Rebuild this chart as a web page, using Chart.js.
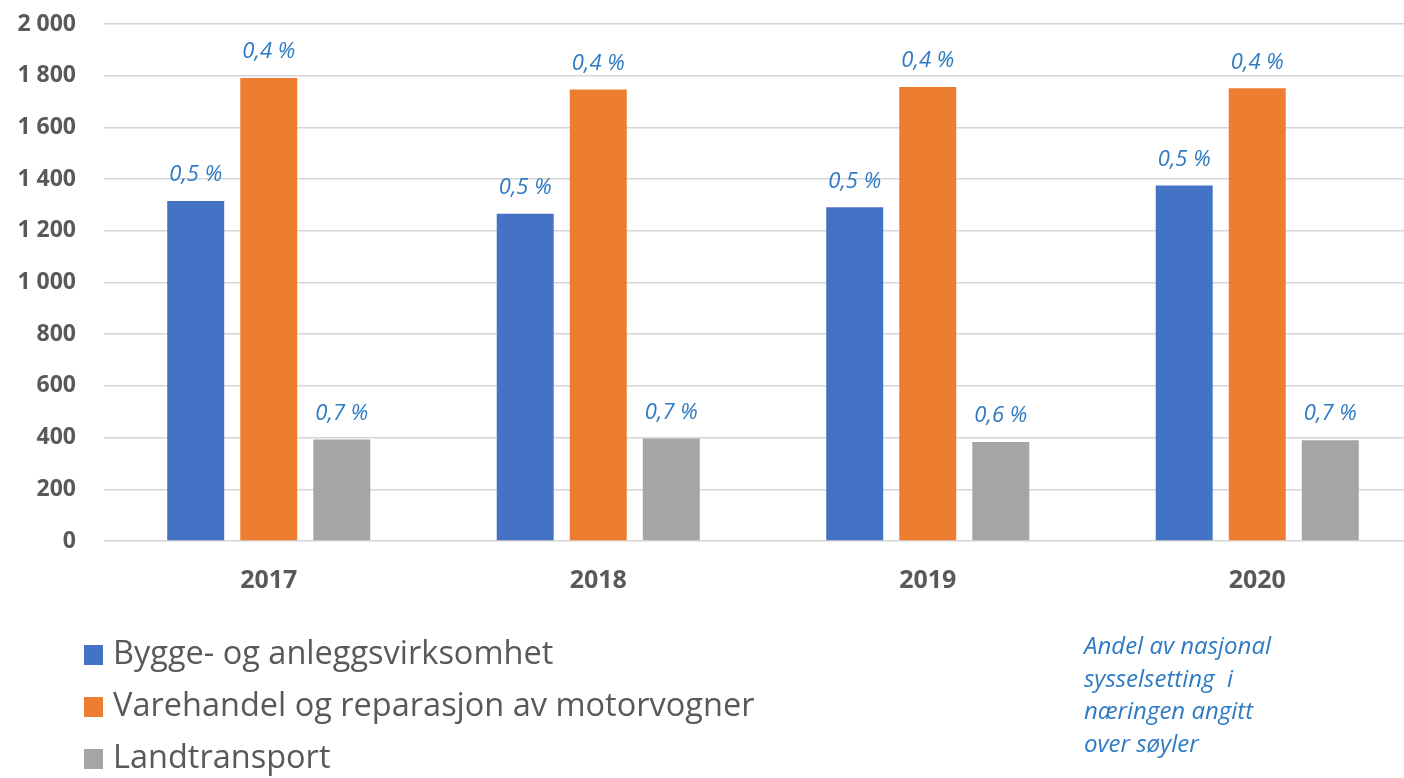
<!DOCTYPE html>
<html>
<head>
<meta charset="utf-8">
<script src="https://cdn.jsdelivr.net/npm/chart.js@4.4.1/dist/chart.umd.min.js"></script>
<style>
  html, body { margin: 0; padding: 0; background: #fff; overflow: hidden; }
  #wrap { position: relative; width: 1422px; height: 778px; }
</style>
</head>
<body>
<div id="wrap"><canvas id="c"></canvas></div>
<script>
const categories = ["2017", "2018", "2019", "2020"];
const seriesNames = ["Bygge- og anleggsvirksomhet", "Varehandel og reparasjon av motorvogner", "Landtransport"];
const byggValues = [1315, 1266, 1291, 1375];
const varehandelValues = [1791, 1747, 1756, 1751];
const landtransportValues = [393, 397, 383, 390];
const byggShares = ["0,5 %", "0,5 %", "0,5 %", "0,5 %"];
const varehandelShares = ["0,4 %", "0,4 %", "0,4 %", "0,4 %"];
const landtransportShares = ["0,7 %", "0,7 %", "0,6 %", "0,7 %"];
const noteLines = ["Andel av nasjonal", "sysselsetting  i", "næringen angitt", "over søyler"];
const colors = ["#4472C4", "#ED7D31", "#A5A5A5"];

const FONT = "'Open Sans', Lato, 'DejaVu Sans', sans-serif";
const labelBlue = "#2E7BC4";

const shareLabels = {
  id: "shareLabels",
  afterDatasetsDraw(chart) {
    const ctx = chart.ctx;
    ctx.save();
    ctx.font = "italic 22px " + FONT;
    ctx.fillStyle = labelBlue;
    ctx.textAlign = "center";
    ctx.textBaseline = "middle";
    chart.data.datasets.forEach((ds, i) => {
      const meta = chart.getDatasetMeta(i);
      meta.data.forEach((bar, j) => {
        ctx.fillText(ds.shares[j], bar.x, bar.y - 26);
      });
    });
    ctx.restore();
  }
};

const sideLegend = {
  id: "sideLegend",
  afterDraw(chart) {
    const ctx = chart.ctx;
    ctx.save();
    ctx.textBaseline = "middle";
    ctx.textAlign = "left";
    ctx.font = "32.5px " + FONT;
    const rowsY = [655, 707, 759];
    chart.data.datasets.forEach((ds, i) => {
      ctx.fillStyle = ds.backgroundColor;
      ctx.fillRect(84, rowsY[i] - 10, 19, 20);
      ctx.fillStyle = "#595959";
      ctx.fillText(ds.label, 113, rowsY[i]);
    });
    ctx.font = "italic 24px " + FONT;
    ctx.fillStyle = labelBlue;
    noteLines.forEach((t, k) => {
      ctx.fillText(t, 1084, 647 + k * 32.7);
    });
    ctx.restore();
  }
};

new Chart(document.getElementById("c"), {
  type: "bar",
  data: {
    labels: categories,
    datasets: [
      { label: seriesNames[0], data: byggValues, shares: byggShares, backgroundColor: colors[0] },
      { label: seriesNames[1], data: varehandelValues, shares: varehandelShares, backgroundColor: colors[1] },
      { label: seriesNames[2], data: landtransportValues, shares: landtransportShares, backgroundColor: colors[2] }
    ]
  },
  options: {
    responsive: true,
    maintainAspectRatio: false,
    animation: false,
    datasets: { bar: { categoryPercentage: 0.665, barPercentage: 0.78 } },
    layout: { padding: { top: 24, right: 0, left: 0, bottom: 0 } },
    plugins: { legend: { display: false }, tooltip: { enabled: false } },
    scales: {
      x: {
        grid: { display: false, drawTicks: false },
        border: { display: false },
        ticks: { color: "#595959", font: { family: FONT, size: 25, weight: "bold" }, padding: 25 },
        afterFit(s) { s.height = 237; }
      },
      y: {
        min: 0, max: 2000,
        ticks: {
          stepSize: 200,
          color: "#595959",
          font: { family: FONT, size: 23, weight: "bold" },
          padding: 0,
          callback: v => v >= 1000 ? Math.floor(v / 1000) + " " + String(v % 1000).padStart(3, "0") : String(v)
        },
        grid: { color: "#D6D6D6", lineWidth: 1.5, drawTicks: true, tickLength: 28, tickColor: "rgba(0,0,0,0)" },
        border: { display: false },
        afterFit(s) { s.width = 104; }
      }
    }
  },
  plugins: [shareLabels, sideLegend]
});
</script>
</body>
</html>
